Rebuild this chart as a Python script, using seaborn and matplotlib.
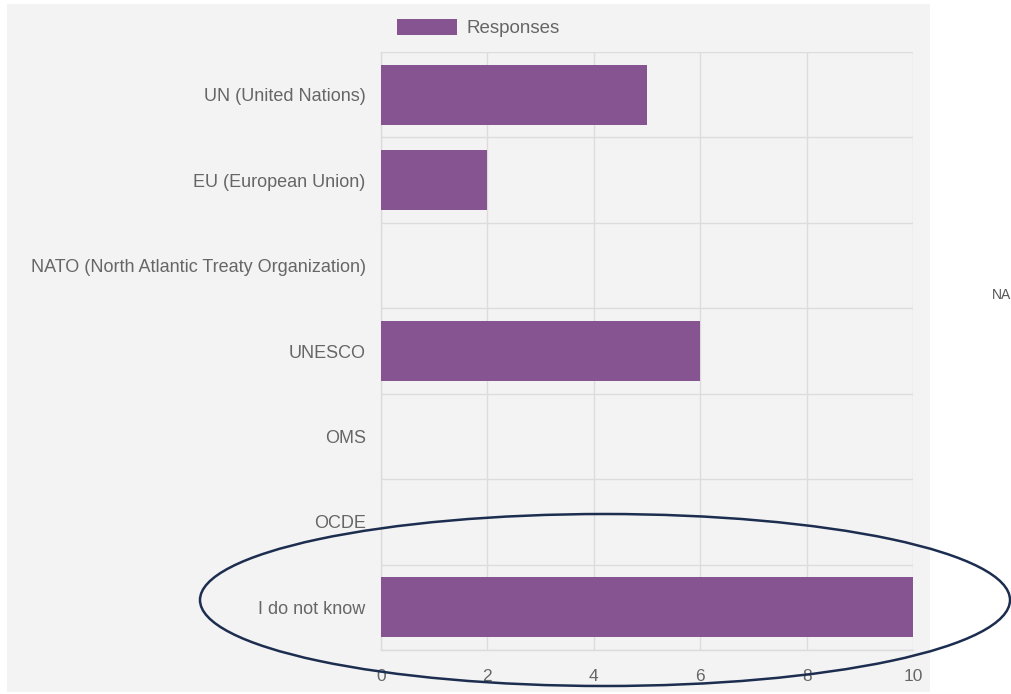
import matplotlib
matplotlib.use("Agg")
import matplotlib.pyplot as plt
from matplotlib.patches import Ellipse, Rectangle, Patch
import seaborn as sns
import pandas as pd
import numpy as np

categories = ["UN (United Nations)", "EU (European Union)",
              "NATO (North Atlantic Treaty Organization)", "UNESCO",
              "OMS", "OCDE", "I do not know"]
responses = [5, 2, 0, 6, 0, 0, 10]
x_ticks = [0, 2, 4, 6, 8, 10]

sns.set_theme(style="white")
plt.rcParams['font.family'] = ['Liberation Sans', 'DejaVu Sans']

BAR = "#865490"
GRID = "#dcdcdc"
TXT = "#666666"
BG = "#f3f3f3"

W, H = 1012, 694
fig = plt.figure(figsize=(W / 100, H / 100), dpi=100)
fig.patch.set_facecolor("white")

# gray panel behind chart
fig.patches.append(Rectangle((7 / W, 1 - 692 / H), (930 - 7) / W, (692 - 4) / H,
                             transform=fig.transFigure, facecolor=BG,
                             edgecolor="none", zorder=-5))

ax = fig.add_axes([381 / W, 1 - 650 / H, (913 - 381) / W, (650 - 52) / H])
ax.set_facecolor("none")
ax.set_zorder(1)

df = pd.DataFrame({"category": categories, "Responses": responses})
sns.barplot(data=df, x="Responses", y="category", orient="h", color=BAR,
            width=0.70, saturation=1, ax=ax, zorder=3)
for p in ax.patches:
    p.set_edgecolor("none")

ax.set_xlim(0, 10)
ax.set_ylim(len(categories) - 0.5, -0.5)
ax.set_xticks(x_ticks)
ax.set_xticklabels([str(t) for t in x_ticks])
ax.set_xlabel("")
ax.set_ylabel("")

# horizontal boundaries as minor ticks with grid
bounds = np.arange(len(categories) + 1) - 0.5
ax.set_yticks(bounds, minor=True)
ax.grid(True, axis="y", which="minor", color=GRID, linewidth=1, zorder=0)
ax.grid(True, axis="x", which="major", color=GRID, linewidth=1, zorder=0)
ax.grid(False, axis="y", which="major")
ax.set_axisbelow(True)

ax.tick_params(axis="y", which="major", length=0, pad=11, labelsize=13, labelcolor=TXT)
ax.tick_params(axis="y", which="minor", length=11, color=GRID, width=1)
ax.tick_params(axis="x", which="major", length=10, color=GRID, width=1, pad=4,
               labelsize=12.5, labelcolor=TXT)

for s in ["left", "bottom"]:
    ax.spines[s].set_color(GRID)
    ax.spines[s].set_linewidth(1)
for s in ["top", "right"]:
    ax.spines[s].set_visible(False)

# legend
handle = Patch(facecolor=BAR, edgecolor="none", label="Responses")
fig.legend(handles=[handle], loc="center", bbox_to_anchor=(478 / W, 1 - 28 / H),
           frameon=False, fontsize=13.5, labelcolor=TXT, handlelength=3.2,
           handleheight=1.0, handletextpad=0.5)

# annotation ellipse
fig.patches.append(Ellipse((605 / W, 1 - 600 / H), 810 / W, 172 / H,
                           transform=fig.transFigure, facecolor="none",
                           edgecolor="#1c2d4f", linewidth=1.8, zorder=10))

fig.text(992 / W, 1 - 295 / H, "NA", fontsize=10, color="#555555",
         ha="left", va="center")

fig.savefig("out.png", dpi=100)
